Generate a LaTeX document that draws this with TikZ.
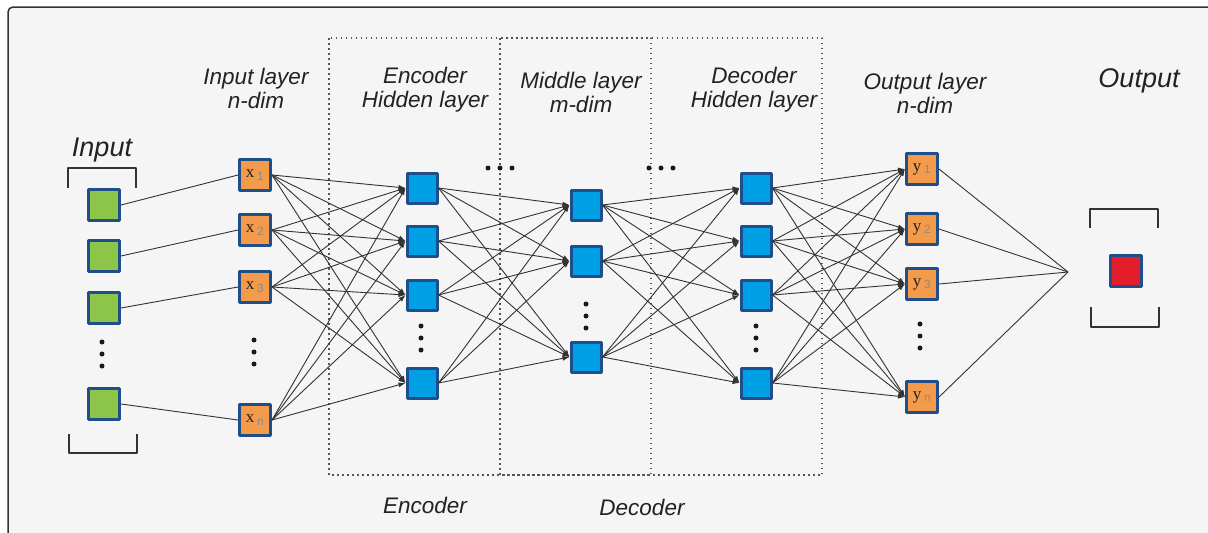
\documentclass[tikz,border=0pt]{standalone}
\usepackage{fontspec}
\setmainfont{Liberation Sans}
\newfontfamily\unitfont{Liberation Serif}
\usetikzlibrary{arrows.meta,positioning}

\definecolor{panelbg}{HTML}{F5F5F5}
\definecolor{unitrim}{HTML}{1F4E8A}
\definecolor{ingreen}{HTML}{8DC549}
\definecolor{unitorange}{HTML}{F39A4B}
\definecolor{hiddenblue}{HTML}{00A0E6}
\definecolor{outred}{HTML}{E31D2C}
\definecolor{linkgray}{HTML}{333333}
\definecolor{regiongray}{HTML}{555555}
\definecolor{labeltext}{HTML}{222222}
\definecolor{subgray}{HTML}{8A8A8A}

\newcommand{\unitlabel}[2]{{\unitfont #1}\,\textsubscript{\color{subgray}#2}}

\begin{document}
\begin{tikzpicture}[x=1pt,y=-1pt,line join=round,>={Latex[length=7pt,width=5pt]}]
	\tikzstyle{unit}=[rectangle,inner sep=0pt,minimum size=31pt,line width=3pt,draw=unitrim]
	\tikzstyle{inbox}=[unit,fill=ingreen]
	\tikzstyle{neuron}=[unit,fill=unitorange,text=labeltext,font=\fontsize{17}{17}\selectfont]
	\tikzstyle{hidden}=[unit,fill=hiddenblue,minimum size=30pt]
	\tikzstyle{outbox}=[unit,fill=outred]
	\tikzstyle{layer}=[font=\fontsize{22.5}{24}\selectfont\itshape,align=center,text=labeltext]
	\tikzstyle{biglayer}=[layer,font=\fontsize{27}{29}\selectfont\itshape]
	\tikzstyle{link}=[line width=0.9pt,draw=linkgray]
	\tikzstyle{region}=[draw=regiongray,line width=1.2pt,dash pattern=on 1.5pt off 3.5pt]
	\tikzstyle{bracket}=[draw=linkgray,line width=1.6pt]
	\tikzstyle{dot}=[fill=black!90]

	\useasboundingbox (0,0) rectangle (1208,533);
	\clip (0,0) rectangle (1208,533);
	\draw[draw=linkgray,line width=1.5pt,fill=panelbg,rounded corners=5pt] (8,7) rectangle (1240,560);

	% encoder / decoder regions
	\draw[region] (329,38) rectangle (651,475);
	\draw[region] (500,38) rectangle (822,475);

	\node[inbox]	(g1)	at (104,205)						{};
	\node[inbox]	(g2)	[below of=g1,node distance=51pt]	{};
	\node[inbox]	(g3)	[below of=g2,node distance=52pt]	{};
	\node[inbox]	(gn)	[below of=g3,node distance=96pt]	{};

	\node[neuron]	(x1)	at (255,175)						{\unitlabel{x}{1}};
	\node[neuron]	(x2)	[below of=x1,node distance=55pt]	{\unitlabel{x}{2}};
	\node[neuron]	(x3)	[below of=x2,node distance=57pt]	{\unitlabel{x}{3}};
	\node[neuron]	(xn)	[below of=x3,node distance=133pt]	{\unitlabel{x}{n}};

	\node[hidden]	(e1)	at (422,188)						{};
	\node[hidden]	(e2)	[below of=e1,node distance=53pt]	{};
	\node[hidden]	(e3)	[below of=e2,node distance=54pt]	{};
	\node[hidden]	(en)	[below of=e3,node distance=88pt]	{};

	\node[hidden]	(m1)	at (586,205)						{};
	\node[hidden]	(m2)	[below of=m1,node distance=56pt]	{};
	\node[hidden]	(mn)	[below of=m2,node distance=96pt]	{};

	\node[hidden]	(d1)	at (756,188)						{};
	\node[hidden]	(d2)	[below of=d1,node distance=53pt]	{};
	\node[hidden]	(d3)	[below of=d2,node distance=54pt]	{};
	\node[hidden]	(dn)	[below of=d3,node distance=88pt]	{};

	\node[neuron]	(y1)	at (922,169)						{\unitlabel{y}{1}};
	\node[neuron]	(y2)	[below of=y1,node distance=60pt]	{\unitlabel{y}{2}};
	\node[neuron]	(y3)	[below of=y2,node distance=55pt]	{\unitlabel{y}{3}};
	\node[neuron]	(yn)	[below of=y3,node distance=113pt]	{\unitlabel{y}{n}};

	\coordinate		(merge)	at (1068,272);
	\node[outbox]	(out)	at (1126,271)						{};

	% labels
	\node[biglayer]	(inputlbl)		at (102,150)	{Input};
	\node[layer]	(inlayerlbl)	at (256,88)		{Input layer\\n-dim};
	\node[layer]	(enclayerlbl)	at (425,90)		{Encoder\\Hidden layer};
	\node[layer]	(midlayerlbl)	at (581,92)		{Middle layer\\m-dim};
	\node[layer]	(declayerlbl)	at (754,90)		{Decoder\\Hidden layer};
	\node[layer]	(outlayerlbl)	at (925,93)		{Output layer\\n-dim};
	\node[biglayer]	(outputlbl)		at (1139,81)	{Output};
	\node[layer]	(encoderlbl)	at (425,505)	{Encoder};
	\node[layer]	(decoderlbl)	at (642,507)	{Decoder};

	% brackets
	\draw[bracket] (68,188) |- (136,168) -- (136,188);
	\draw[bracket] (69,434) |- (137,453) -- (137,434);
	\draw[bracket] (1090,228) |- (1158,209) -- (1158,228);
	\draw[bracket] (1091,307) |- (1159,327) -- (1159,307);

	% dots
	\foreach \cx/\cy in {102/354,254/352,421/338,586/316,756/338,920/336}
		\foreach \k in {-12,0,12}
			\fill[dot] (\cx,\cy+\k) circle (2.5pt);
	\foreach \cx in {500,661}
		\foreach \k in {-12,0,12}
			\fill[dot] (\cx+\k,168) circle (2.5pt);

	% connections
	\foreach \s/\t in {g1/x1,g2/x2,g3/x3,gn/xn}
		\draw[link] (\s.east) -- (\t.west);
	\foreach \s in {x1,x2,x3,xn}
		\foreach \t in {e1,e2,e3,en}
			\draw[link,->] (\s.east) -- (\t.west);
	\foreach \s in {e1,e2,e3,en}
		\foreach \t in {m1,m2,mn}
			\draw[link,->] (\s.east) -- (\t.west);
	\foreach \s in {m1,m2,mn}
		\foreach \t in {d1,d2,d3,dn}
			\draw[link,->] (\s.east) -- (\t.west);
	\foreach \s in {d1,d2,d3,dn}
		\foreach \t in {y1,y2,y3,yn}
			\draw[link,->] (\s.east) -- (\t.west);
	\foreach \s in {y1,y2,y3,yn}
		\draw[link] (\s.east) -- (merge);
\end{tikzpicture}
\end{document}
